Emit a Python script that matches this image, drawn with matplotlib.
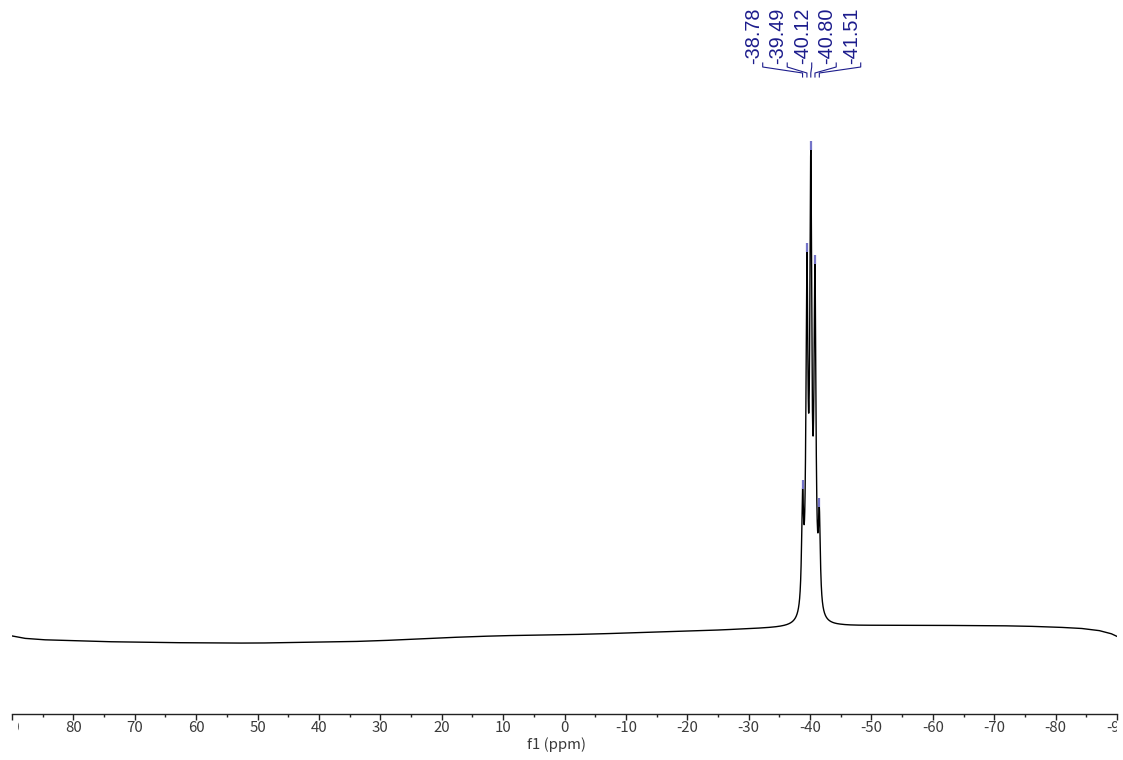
import numpy as np
import matplotlib

matplotlib.use("Agg")
import matplotlib.pyplot as plt
from matplotlib.transforms import Bbox, TransformedBbox, blended_transform_factory


# multiplet peak list (ppm) and apparent heights, tallest line = 100
peak_shifts = [-38.78, -39.49, -40.12, -40.80, -41.51]
peak_heights = [28.8, 78.6, 100.0, 76.1, 25.0]
peak_labels = ["-38.78", "-39.49", "-40.12", "-40.80", "-41.51"]
line_hwhm = 0.19  # ppm, Lorentzian half width

# slow baseline drift across the window, same intensity units
baseline_ppm = [90, 88, 85, 80, 75, 70, 65, 60, 55, 50, 45, 40, 35, 30, 25, 20,
                15, 10, 5, 0, -5, -10, -15, -20, -25, -30, -35, -45, -50, -60,
                -70, -75, -80, -84, -87, -89, -90]
baseline_level = [-2.1, -2.6, -2.9, -3.1, -3.3, -3.4, -3.5, -3.55, -3.6, -3.6,
                  -3.5, -3.4, -3.3, -3.1, -2.8, -2.5, -2.25, -2.05, -1.95,
                  -1.85, -1.7, -1.5, -1.3, -1.1, -0.9, -0.65, -0.45, -0.05,
                  0.05, 0.1, 0.05, -0.05, -0.25, -0.5, -0.95, -1.6, -2.2]

major_ticks = list(range(-90, 91, 10))
minor_ticks = list(range(-85, 90, 10))

FIG_W, FIG_H, DPI = 1123, 760, 100
AX_LEFT, AX_RIGHT, AX_BOTTOM = 12, 1117, 714  # pixels
LABEL_COLOR = "#1c1c8c"
MARKER_COLOR = "#7474c8"
TICK_FONT = ["Noto Sans CJK SC", "DejaVu Sans"]


def lorentz(x, centre, hwhm):
    return 1.0 / (1.0 + ((x - centre) / hwhm) ** 2)


def build_spectrum(ppm):
    shifts = np.asarray(peak_shifts)
    xp = np.asarray(baseline_ppm[::-1], dtype=float)
    fp = np.asarray(baseline_level[::-1], dtype=float)
    base = np.interp(ppm, xp, fp)
    # amplitudes so that the summed curve passes through the listed heights
    overlap = lorentz(shifts[:, None], shifts[None, :], line_hwhm)
    target = np.asarray(peak_heights) - np.interp(shifts, xp, fp)
    amps = np.linalg.solve(overlap, target)
    signal = sum(a * lorentz(ppm, s, line_hwhm) for a, s in zip(amps, shifts))
    return base + signal


fig = plt.figure(figsize=(FIG_W / DPI, FIG_H / DPI), dpi=DPI)
ax = fig.add_axes([AX_LEFT / FIG_W, (FIG_H - AX_BOTTOM) / FIG_H,
                   (AX_RIGHT - AX_LEFT) / FIG_W, AX_BOTTOM / FIG_H])

ppm = np.linspace(90, -90, 36001)
ax.plot(ppm, build_spectrum(ppm), color="black", lw=1.0)

# short markers on top of each picked line
for shift, height in zip(peak_shifts, peak_heights):
    ax.plot([shift, shift], [height, height + 1.8], color=MARKER_COLOR, lw=1.6,
            solid_capstyle="butt")

ax.set_xlim(90, -90)
ax.set_ylim(-18.5, 131.5)

for side in ("left", "right", "top"):
    ax.spines[side].set_visible(False)
ax.spines["bottom"].set_linewidth(1.0)
ax.spines["bottom"].set_color("#222222")
ax.set_yticks([])

ax.set_xticks(major_ticks)
ax.set_xticks(minor_ticks, minor=True)
ax.set_xticklabels([str(t) for t in major_ticks])
ax.tick_params(axis="x", which="major", direction="out", length=4, width=1.0,
               color="#222222", pad=1, labelsize=10.8, labelcolor="#3a3a3a")
ax.tick_params(axis="x", which="minor", direction="out", length=2.2, width=1.0,
               color="#222222")
# edge labels get cut at the ends of the axis
clip = TransformedBbox(Bbox([[0.005, 0], [1, 1]]),
                       blended_transform_factory(ax.transAxes, fig.transFigure))
for label in ax.get_xticklabels():
    label.set_family(TICK_FONT)
    label.set_clip_box(clip)
    label.set_clip_on(True)

ax.set_xlabel("f1 (ppm)", fontsize=10.8, family=TICK_FONT, color="#3a3a3a")
ax.xaxis.set_label_coords(0.493, -0.032)

# peak labels with connector lines, positions in pixels from the figure top
px_per_ppm = (AX_RIGHT - AX_LEFT) / 180.0
label_gap = 24.5 / px_per_ppm
label_centre = np.mean(peak_shifts) - 0.8 / px_per_ppm


def y_axes(px):
    return (AX_BOTTOM - px) / AX_BOTTOM


mixed = blended_transform_factory(ax.transData, ax.transAxes)
n = len(peak_shifts)
for i, (shift, text) in enumerate(zip(peak_shifts, peak_labels)):
    lx = label_centre - (i - (n - 1) / 2) * label_gap
    ax.text(lx, y_axes(64), text, rotation=90, ha="right", va="bottom",
            fontsize=14.3, family="Liberation Sans", color=LABEL_COLOR,
            transform=mixed)
    ax.plot([lx, lx, shift, shift],
            [y_axes(63), y_axes(67), y_axes(73), y_axes(77)],
            color=LABEL_COLOR, lw=0.8, transform=mixed, clip_on=False)

fig.savefig("out.png", dpi=DPI)
